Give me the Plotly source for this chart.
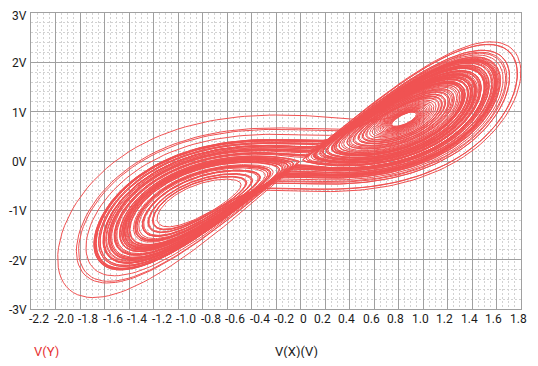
import numpy as np
import plotly.graph_objects as go

# ---- data: Lorenz-type analog circuit as simulated (V(X) vs V(Y)) ----
SIGMA = 10.0
RHO = 28.0
BETA = 8.0 / 3.0
VOLT_PER_UNIT = 0.1          # circuit scaling: 10 model units = 1 V
X0, Y0, Z0 = 0.0, -0.05, 0.0  # start near the origin
T_END = 140.0
DT = 0.004

x_tick_vals = [round(-2.2 + 0.2 * i, 1) for i in range(21)]
x_tick_text = ["-2.2", "-2.0", "-1.8", "-1.6", "-1.4", "-1.2", "-1.0", "-0.8", "-0.6",
               "-0.4", "-0.2", "0", "0.2", "0.4", "0.6", "0.8", "1.0", "1.2", "1.4",
               "1.6", "1.8"]
y_tick_vals = [3, 2, 1, 0, -1, -2, -3]
y_tick_text = ["3V", "2V", "1V", "0V", "-1V", "-2V", "-3V"]


def deriv(s):
    x, y, z = s
    return np.array([SIGMA * (y - x), x * (RHO - z) - y, x * y - BETA * z])


n = int(T_END / DT)
state = np.array([X0, Y0, Z0])
traj = np.empty((n, 3))
for i in range(n):
    traj[i] = state
    k1 = deriv(state)
    k2 = deriv(state + 0.5 * DT * k1)
    k3 = deriv(state + 0.5 * DT * k2)
    k4 = deriv(state + DT * k3)
    state = state + DT / 6.0 * (k1 + 2 * k2 + 2 * k3 + k4)

vx = traj[:, 0] * VOLT_PER_UNIT
vy = traj[:, 1] * VOLT_PER_UNIT

FONT = "Liberation Sans Narrow, Arial Narrow, Roboto, sans-serif"
TXT = dict(family=FONT, size=12, color="#1a1a1a")
RED = "rgb(240,82,82)"
MAJOR = "#a0a0a0"
MINOR = "#d2d2d2"

fig = go.Figure()
fig.add_trace(go.Scatter(x=vx, y=vy, mode="lines",
                         line=dict(color=RED, width=1), hoverinfo="skip",
                         showlegend=False))

# the page body adds an 8 px margin, so the figure is sized/offset to compensate
fig.update_layout(
    width=522, height=350,
    margin=dict(l=23, r=9, t=5, b=49, autoexpand=False),
    paper_bgcolor="white", plot_bgcolor="white",
    font=TXT,
    showlegend=False,
)
axis_common = dict(
    ticks="", automargin=False, showticklabels=False,
    showgrid=True, gridcolor=MAJOR, gridwidth=1,
    zeroline=True, zerolinecolor=MAJOR, zerolinewidth=1,
    showline=True, linecolor=MAJOR, linewidth=1, mirror=True,
)
fig.update_xaxes(
    range=[-2.2, 1.8], tick0=0, dtick=0.2,
    minor=dict(tick0=0, dtick=0.05, showgrid=True, gridcolor=MINOR,
               griddash="2px,2px", gridwidth=1),
    **axis_common,
)
fig.update_yaxes(
    range=[-3, 3], tickvals=y_tick_vals,
    minor=dict(tick0=0, dtick=0.2, showgrid=True, gridcolor=MINOR,
               griddash="2px,2px", gridwidth=1),
    **axis_common,
)

for v, t in zip(x_tick_vals, x_tick_text):
    if v < 0:
        shift = 8
    elif v == 0:
        shift = 3
    else:
        shift = -3
    fig.add_annotation(x=v, y=0, xref="x", yref="paper", yanchor="top",
                       yshift=-1, xshift=shift, text=t, showarrow=False,
                       font=TXT)

for v, t in zip(y_tick_vals, y_tick_text):
    fig.add_annotation(x=0, xref="paper", y=v, yref="y", xanchor="right",
                       yanchor="middle", xshift=-2, yshift=-3 if v == 3 else -1,
                       text=t, showarrow=False, font=TXT)

fig.add_annotation(x=0, xref="paper", y=0, yref="paper", xanchor="left",
                   yanchor="middle", xshift=1, yshift=-42, text="V(Y)", showarrow=False,
                   font=dict(family=FONT, size=13, color="rgb(230,50,50)"))
fig.add_annotation(x=0, xref="x", y=0, yref="paper", xanchor="center",
                   yanchor="middle", xshift=-4, yshift=-42, text="V(X)(V)", showarrow=False,
                   font=dict(family=FONT, size=13, color="#1a1a1a"))

fig.write_html("out.html")
